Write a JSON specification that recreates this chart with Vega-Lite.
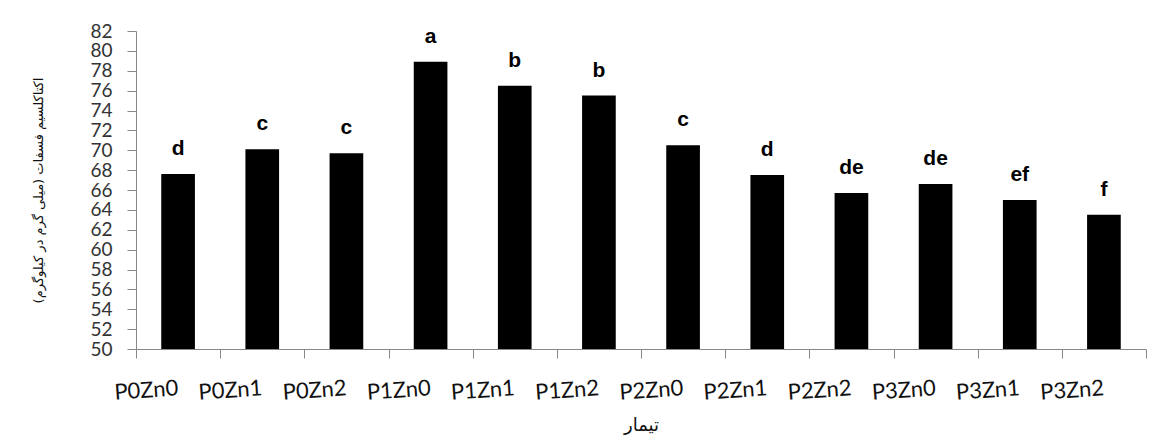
{
  "$schema": "https://vega.github.io/schema/vega-lite/v6.json",
  "width": 1010,
  "height": 318,
  "autosize": "none",
  "padding": {"left": 136, "top": 31, "right": 28, "bottom": 98},
  "background": "white",
  "config": {"view": {"stroke": null}},
  "data": {
    "values": [
      {"t": "P0Zn0", "v": 67.6, "l": "d"},
      {"t": "P0Zn1", "v": 70.1, "l": "c"},
      {"t": "P0Zn2", "v": 69.7, "l": "c"},
      {"t": "P1Zn0", "v": 78.9, "l": "a"},
      {"t": "P1Zn1", "v": 76.5, "l": "b"},
      {"t": "P1Zn2", "v": 75.5, "l": "b"},
      {"t": "P2Zn0", "v": 70.5, "l": "c"},
      {"t": "P2Zn1", "v": 67.5, "l": "d"},
      {"t": "P2Zn2", "v": 65.7, "l": "de"},
      {"t": "P3Zn0", "v": 66.6, "l": "de"},
      {"t": "P3Zn1", "v": 65.0, "l": "ef"},
      {"t": "P3Zn2", "v": 63.5, "l": "f"}
    ]
  },
  "encoding": {
    "x": {
      "field": "t",
      "type": "nominal",
      "sort": null,
      "scale": {"paddingInner": 0, "paddingOuter": 0},
      "axis": {
        "title": "تیمار",
        "titleFont": "DejaVu Sans",
        "titleFontSize": 18,
        "titleFontWeight": "normal",
        "titleColor": "#111",
        "titlePadding": 13,
        "labelFont": "Lato",
        "labelFontSize": 22,
        "labelColor": "#111",
        "labelAngle": -4,
        "labelAlign": "center",
        "labelBaseline": "top",
        "labelOffset": -33,
        "labelPadding": 22,
        "labelOverlap": false,
        "labelBound": false,
        "tickBand": "extent",
        "tickSize": 9,
        "tickColor": "#888",
        "domainColor": "#888",
        "grid": false
      }
    },
    "y": {
      "field": "v",
      "type": "quantitative",
      "scale": {"domain": [50, 82], "nice": false, "zero": false},
      "axis": {
        "title": "اکتاکلسیم فسفات (میلی گرم در کیلوگرم)",
        "titleFont": "DejaVu Sans",
        "titleFontSize": 13,
        "titleFontWeight": "normal",
        "titleColor": "#111",
        "titlePadding": 44,
        "values": [50, 52, 54, 56, 58, 60, 62, 64, 66, 68, 70, 72, 74, 76, 78, 80, 82],
        "labelOverlap": false,
        "labelBound": false,
        "labelFlush": false,
        "labelFont": "Lato",
        "labelFontSize": 19,
        "labelColor": "#333",
        "labelPadding": 15,
        "tickSize": 9,
        "tickColor": "#888",
        "domainColor": "#888",
        "grid": false
      }
    }
  },
  "layer": [
    {"mark": {"type": "bar", "color": "black", "width": {"band": 0.4}, "clip": true}},
    {
      "mark": {"type": "text", "font": "Liberation Sans", "fontWeight": "bold", "fontSize": 21, "dy": -19, "baseline": "alphabetic", "color": "black"},
      "encoding": {"text": {"field": "l"}}
    }
  ]
}
